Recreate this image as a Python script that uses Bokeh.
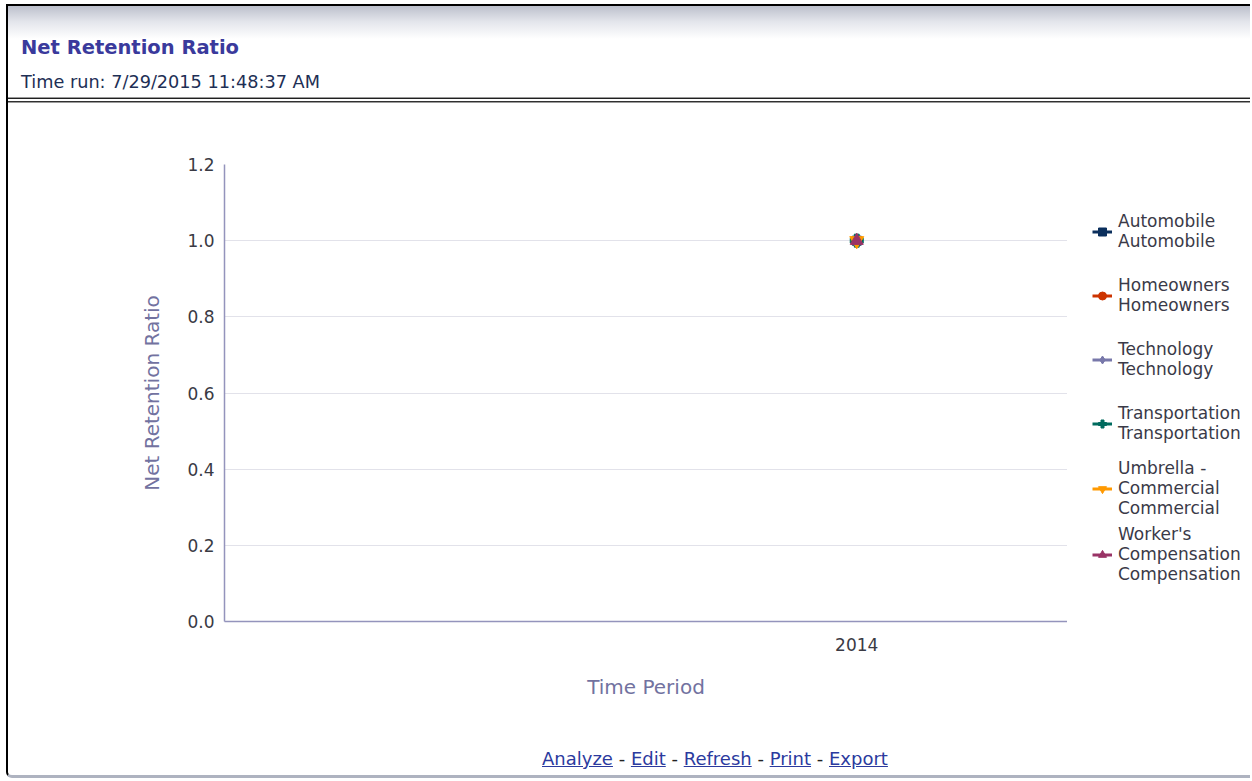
from bokeh.plotting import figure
from bokeh.models import (Range1d, FixedTicker, NumeralTickFormatter, Legend,
                          LegendItem, Div)
from bokeh.layouts import column, row
from bokeh.embed import file_html
from bokeh.resources import INLINE

# ---------------- data ----------------
TITLE = "Net Retention Ratio"
TIME_RUN = "Time run: 7/29/2015 11:48:37 AM"
X_LABEL = "Time Period"
Y_LABEL = "Net Retention Ratio"
periods = [2014]
series_names = ["Automobile", "Homeowners", "Technology", "Transportation",
                "Umbrella - Commercial", "Worker's Compensation"]
legend_labels = ["Automobile\nAutomobile", "Homeowners\nHomeowners",
                 "Technology\nTechnology", "Transportation\nTransportation",
                 "Umbrella -\nCommercial\nCommercial",
                 "Worker's\nCompensation\nCompensation"]
automobile = [1.0]
homeowners = [1.0]
technology = [1.0]
transportation = [1.0]
umbrella_commercial = [1.0]
workers_compensation = [1.0]
series_values = [automobile, homeowners, technology, transportation,
                 umbrella_commercial, workers_compensation]
series_colors = ["#0B2F5C", "#CC3300", "#7878AA", "#006B5E", "#FF9900", "#993366"]
series_markers = ["square", "circle", "diamond", "plus", "inverted_triangle", "triangle"]
marker_sizes = [9, 9, 11, 13, 14, 13]
y_ticks = [0.0, 0.2, 0.4, 0.6, 0.8, 1.0, 1.2]
links = ["Analyze", "Edit", "Refresh", "Print", "Export"]

W = 1242
FONT = "DejaVu Sans"
FRAME_L, FRAME_W = 216, 843
TOP, BOTTOM, H = 59, 124, 640

# ---------------- header ----------------
header_html = (
    '<div style="position:relative;width:%dpx;height:99px;overflow:hidden;'
    'background:linear-gradient(to bottom,#BCC0CC 0px,#E4E6EC 16px,#FFFFFF 33px,#FFFFFF 100%%);'
    'font-family:\'DejaVu Sans\'">'
    '<div style="position:absolute;left:13px;top:30px;line-height:24px;font-size:19.5px;'
    'font-weight:bold;color:#3A3A9C;white-space:nowrap">%s</div>'
    '<div style="position:absolute;left:13px;top:65px;line-height:22px;font-size:17.7px;'
    'color:#1E2F55;white-space:nowrap">%s</div>'
    '<div style="position:absolute;left:0;top:91px;width:100%%;height:1px;background:#9a9a9a"></div>'
    '<div style="position:absolute;left:0;top:92px;width:100%%;height:1px;background:#202020"></div>'
    '<div style="position:absolute;left:0;top:95px;width:100%%;height:1px;background:#303030"></div>'
    '<div style="position:absolute;left:0;top:96px;width:100%%;height:1px;background:#9a9a9a"></div>'
    '</div>' % (W, TITLE, TIME_RUN))
header = Div(text=header_html, width=W, height=99,
             styles={"margin": "0", "padding": "0"})

# ---------------- chart ----------------
p = figure(width=FRAME_L + FRAME_W, height=H, x_range=Range1d(2011, 2015),
           y_range=Range1d(0, 1.2),
           toolbar_location=None, output_backend="svg",
           min_border_left=FRAME_L, min_border_right=0,
           min_border_top=TOP, min_border_bottom=BOTTOM)
p.outline_line_color = None
p.background_fill_color = "white"
p.border_fill_color = "white"

AX = "#9494BC"
p.xgrid.visible = False
p.ygrid.grid_line_color = "#E2E2EA"
p.ygrid.grid_line_width = 1
p.yaxis.ticker = FixedTicker(ticks=y_ticks)
p.yaxis.formatter = NumeralTickFormatter(format="0.0")
p.xaxis.ticker = FixedTicker(ticks=periods)

for ax in (p.xaxis[0], p.yaxis[0]):
    ax.axis_line_color = AX
    ax.axis_line_width = 1.5
    ax.major_tick_line_color = None
    ax.minor_tick_line_color = None
    ax.major_tick_out = 0
    ax.major_tick_in = 0
    ax.minor_tick_out = 0
    ax.major_label_text_font = FONT
    ax.major_label_text_font_size = "17px"
    ax.major_label_text_color = "#3A3A44"
    ax.axis_label_text_font = FONT
    ax.axis_label_text_font_size = "20px"
    ax.axis_label_text_font_style = "normal"
    ax.axis_label_text_color = "#7272A0"

p.xaxis.axis_label = X_LABEL
p.yaxis.axis_label = Y_LABEL
p.yaxis.major_label_standoff = 10
p.yaxis.axis_label_standoff = 20
p.xaxis.major_label_standoff = 16
p.xaxis.axis_label_standoff = 21

for vals, col, mk, sz in zip(series_values, series_colors, series_markers, marker_sizes):
    p.line(periods, vals, line_color=col, line_width=3)
    p.scatter(periods, vals, marker=mk, size=sz, fill_color=col, line_color=col)

# ---------------- legend panel (same series, drawn only as legend keys) ----------------
LW = W - FRAME_L - FRAME_W
lf = figure(width=LW, height=H, x_range=Range1d(0, 1), y_range=Range1d(0, 1),
            toolbar_location=None, output_backend="svg",
            x_axis_location=None, y_axis_location=None,
            min_border_left=0, min_border_right=0,
            min_border_top=TOP, min_border_bottom=BOTTOM)
lf.grid.visible = False
lf.outline_line_color = None
lf.background_fill_color = "white"
lf.border_fill_color = "white"

items = []
for lab, vals, col, mk in zip(legend_labels, series_values, series_colors, series_markers):
    lr = lf.line(periods, vals, line_color=col, line_width=3)
    sr = lf.scatter(periods, vals, marker=mk, size=10, fill_color=col, line_color=col)
    items.append(LegendItem(label=lab, renderers=[lr, sr]))

legend = Legend(items=items, location=(25, 37), margin=0, padding=0,
                spacing=6, label_height=58, glyph_width=20, glyph_height=25,
                label_standoff=6, label_text_font=FONT,
                label_text_font_size="17px", label_text_color="#3A3A48",
                border_line_color=None, background_fill_alpha=0)
lf.add_layout(legend, "center")

# ---------------- footer ----------------
sep = '<span style="color:#222"> - </span>'
link_html = sep.join(
    '<a href="#" style="color:#2B3A9E;text-decoration:underline">%s</a>' % l
    for l in links)
footer = Div(text='<div style="margin-left:534px;padding-top:3px;white-space:nowrap;'
                  'font-family:\'DejaVu Sans\';font-size:18px;line-height:22px">%s</div>'
                  % link_html,
             width=W, height=30, styles={"margin": "0", "padding": "0"})

layout = column(header, row(p, lf, spacing=0), footer, spacing=0,
                styles={"margin-left": "6px", "margin-top": "4px",
                        "border-left": "2px solid black",
                        "border-top": "2px solid black",
                        "border-bottom": "3px solid #AEB3C0",
                        "border-bottom-left-radius": "6px"})

open("out.html", "w").write(file_html(layout, INLINE))
